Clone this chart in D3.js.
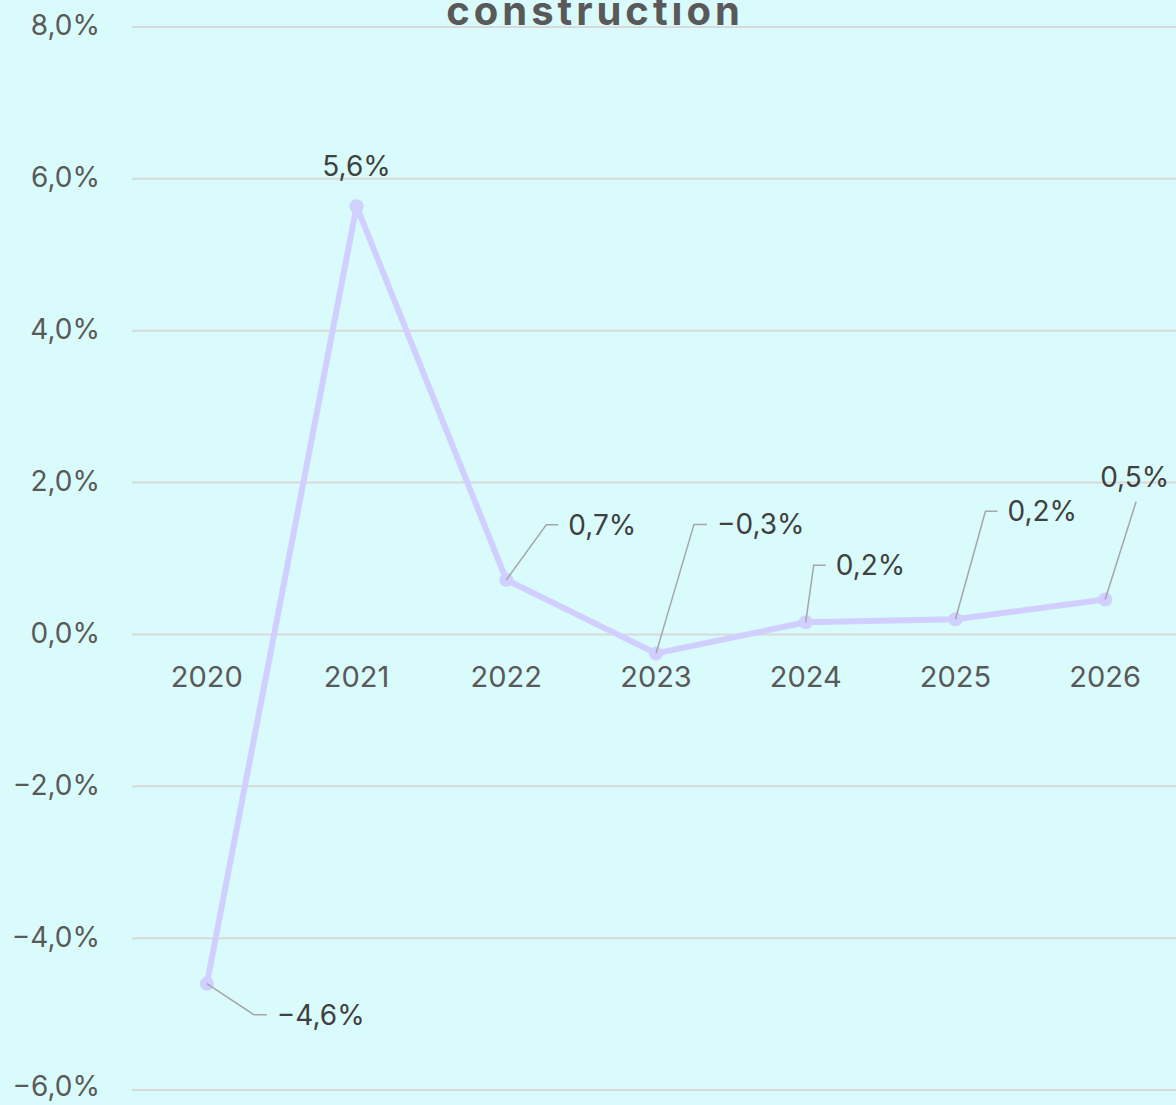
<!DOCTYPE html>
<html>
<head>
<meta charset="utf-8">
<script src="https://d3js.org/d3.v7.min.js"></script>
<style>
  html, body { margin: 0; padding: 0; background: #d9fbfc; }
  svg { display: block; }
</style>
</head>
<body>
<div id="chart"></div>
<script>
// data
const years = ["2020", "2021", "2022", "2023", "2024", "2025", "2026"];
const growth = [-4.6, 5.64, 0.72, -0.25, 0.16, 0.2, 0.46];
const growthLabels = ["\u22124,6%", "5,6%", "0,7%", "\u22120,3%", "0,2%", "0,2%", "0,5%"];
const yTicks = [-6, -4, -2, 0, 2, 4, 6, 8];

const width = 1176, height = 1105;
const margin = {top: 27, right: -4, bottom: 15, left: 132};

const svg = d3.select("#chart").append("svg")
    .attr("width", width)
    .attr("height", height);

svg.append("rect").attr("width", width).attr("height", height).attr("fill", "#d9fbfc");

const x = d3.scaleBand()
    .domain(years)
    .range([margin.left, width - margin.right]);

const y = d3.scaleLinear()
    .domain([-6, 8])
    .range([height - margin.bottom, margin.top]);

const font = "Inter, 'Open Sans', sans-serif";

// gridlines
svg.append("g")
  .selectAll("line")
  .data(yTicks)
  .join("line")
    .attr("x1", margin.left)
    .attr("x2", width)
    .attr("y1", d => y(d))
    .attr("y2", d => y(d))
    .attr("stroke", "#d9d9d9")
    .attr("stroke-width", 2);

// y axis labels
const fmt = d => (d < 0 ? "\u2212" : "") + Math.abs(d).toFixed(1).replace(".", ",") + "%";
svg.append("g")
  .selectAll("text")
  .data(yTicks)
  .join("text")
    .attr("x", 100)
    .attr("y", d => y(d))
    .attr("dy", d => d === -6 ? "0.2em" : "0.3em")
    .attr("text-anchor", "end")
    .attr("font-family", font)
    .attr("font-size", 28)
    .attr("fill", "#595959")
    .text(fmt);

// category labels sit just under the zero line
svg.append("g")
  .selectAll("text")
  .data(years)
  .join("text")
    .attr("x", d => x(d) + x.bandwidth() / 2)
    .attr("y", y(0) + 53)
    .attr("text-anchor", "middle")
    .attr("font-family", font)
    .attr("font-size", 29)
    .attr("fill", "#595959")
    .text(d => d);

// title (partly cut off at top, like the original)
svg.append("text")
    .attr("x", 595)
    .attr("y", 25)
    .attr("text-anchor", "middle")
    .attr("font-family", font)
    .attr("font-weight", 700)
    .attr("font-size", 40)
    .attr("letter-spacing", 4)
    .attr("fill", "#595959")
    .text("construction");

const pts = years.map((yr, i) => ({yr, v: growth[i], label: growthLabels[i]}));
const cx = d => x(d.yr) + x.bandwidth() / 2;

// line
const line = d3.line().x(cx).y(d => y(d.v));
svg.append("path")
    .datum(pts)
    .attr("d", line)
    .attr("fill", "none")
    .attr("stroke", "#d1cfff")
    .attr("stroke-width", 6)
    .attr("stroke-linejoin", "round");

svg.append("g")
  .selectAll("circle")
  .data(pts)
  .join("circle")
    .attr("cx", cx)
    .attr("cy", d => y(d.v))
    .attr("r", 7)
    .attr("fill", "#d1cfff");

// label placement: [dx, dy] of label anchor from the point, leader elbow length
const labelOffsets = [
  {dx: 70, dy: 31, elbow: 13, leader: true},
  {dx: 0, dy: -40, elbow: 0, leader: false},
  {dx: 62, dy: -55, elbow: 12, leader: true},
  {dx: 61, dy: -129, elbow: 13, leader: true},
  {dx: 30, dy: -57, elbow: 12, leader: true},
  {dx: 52, dy: -108, elbow: 12, leader: true},
  {dx: -5, dy: -123, elbow: 0, leader: true, end: [31, -98]}
];

const lab = svg.append("g");
pts.forEach((d, i) => {
  const o = labelOffsets[i];
  const px = cx(d), py = y(d.v);
  const lx = px + o.dx, ly = py + o.dy;
  if (o.leader) {
    let path;
    if (o.end) {
      path = [[px, py], [px + o.end[0], py + o.end[1]]];
    } else {
      const ex = lx - 10;
      path = [[px, py], [ex - o.elbow, ly], [ex, ly]];
    }
    lab.append("path")
      .attr("d", d3.line()(path))
      .attr("fill", "none")
      .attr("stroke", "#a6a6a6")
      .attr("stroke-width", 1.5);
  }
  lab.append("text")
    .attr("x", lx)
    .attr("y", ly)
    .attr("dy", "0.36em")
    .attr("text-anchor", i === 1 ? "middle" : "start")
    .attr("font-family", font)
    .attr("font-size", 28)
    .attr("fill", "#404040")
    .text(d.label);
});
</script>
</body>
</html>
